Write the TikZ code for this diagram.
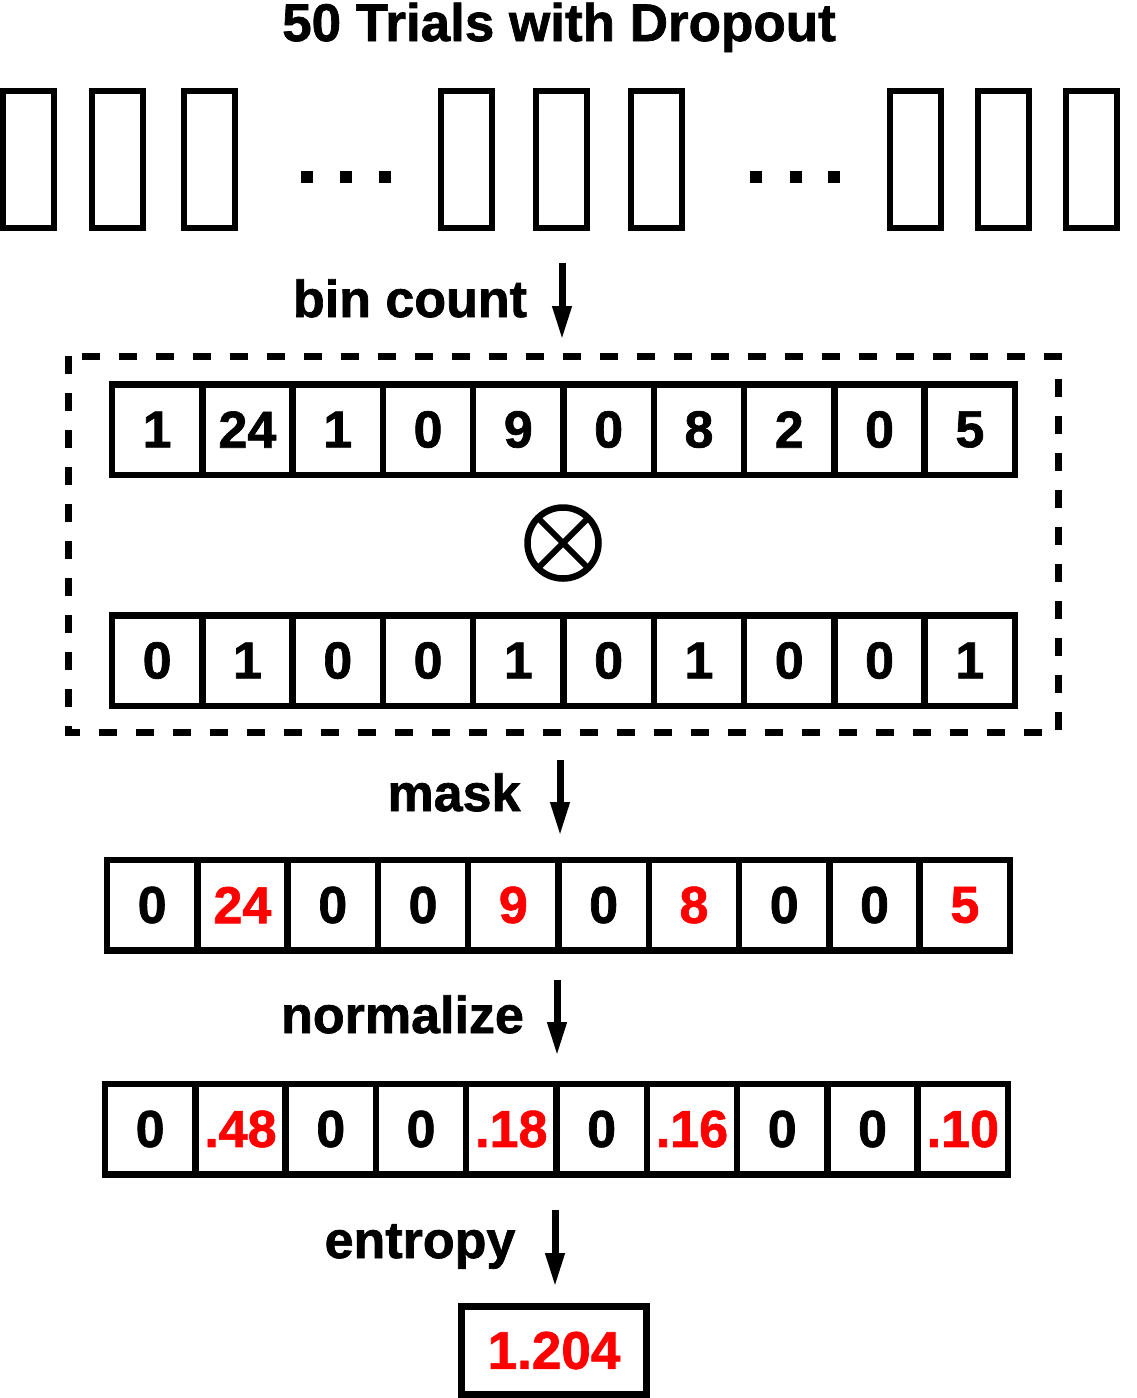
\documentclass[tikz,border=0pt]{standalone}
\usepackage{fontspec}
\setmainfont{Liberation Sans}[BoldFeatures={FakeBold=1.3}]
\usetikzlibrary{arrows.meta}
\tikzset{
  cell/.style={draw=black, line width=6.5pt, minimum width=90.3pt, minimum height=90.5pt,
    inner sep=0pt, outer sep=0pt, font=\fontsize{52}{60}\selectfont\bfseries},
  trial/.style={draw=black, line width=6pt, minimum width=51pt, minimum height=137pt,
    inner sep=0pt, outer sep=0pt},
  lbl/.style={anchor=base, inner sep=0pt, font=\fontsize{52}{60}\selectfont\bfseries},
  flow/.style={line width=7pt, -{Triangle[length=34pt,width=18pt]}},
  dotsq/.style={fill=black, draw=none, minimum size=12pt, inner sep=0pt},
  groupbox/.style={draw=black, line width=7pt, dash pattern=on 18pt off 19pt},
}
\begin{document}
\begin{tikzpicture}[x=1pt,y=-1pt]
\useasboundingbox (0,0) rectangle (1136,1398);
% title
\node[lbl, font=\fontsize{53}{60}\selectfont\bfseries] (title) at (559,41) {50 Trials with Dropout};
% trials
\foreach \x [count=\i] in {28.5,117,209.5,466.5,561.5,656,915,1003.5,1091}
  \node[trial] (t\i) at (\x,159.5) {};
\foreach \x [count=\i] in {307,346,385,755.5,795.5,834}
  \node[dotsq] (d\i) at (\x,177) {};
% bin count arrow
\node[lbl] (lbin) at (410,317) {bin count};
\coordinate (a1s) at (562,263);
\coordinate (a1e) at (562,340);
\draw[flow] (a1s) -- (a1e);
% dashed group
\draw[groupbox] (68,356) rectangle (1058.5,732);
% row 1
\foreach \v [count=\i] in {1,24,1,0,9,0,8,2,0,5}
  \node[cell] (ra\i) at ({112+90.3*(\i-0.5)},429.5) {\v};
% otimes
\node[draw=black, circle, line width=6.5pt, minimum size=71pt, inner sep=0pt, outer sep=0pt] (ot) at (563,543) {};
\draw[line width=6pt] (ot.45) -- (ot.225);
\draw[line width=6pt] (ot.135) -- (ot.315);
% row 2
\foreach \v [count=\i] in {0,1,0,0,1,0,1,0,0,1}
  \node[cell] (rb\i) at ({112+90.3*(\i-0.5)},660.5) {\v};
% mask arrow
\node[lbl] (lmask) at (454,811) {mask};
\coordinate (a2s) at (560,760);
\coordinate (a2e) at (560,836);
\draw[flow] (a2s) -- (a2e);
% row 3
\foreach \v/\c [count=\i] in {0/black,24/red,0/black,0/black,9/red,0/black,8/red,0/black,0/black,5/red}
  \node[cell, text=\c] (rc\i) at ({107+90.3*(\i-0.5)},905) {\v};
% normalize arrow
\node[lbl] (lnorm) at (402.5,1033) {normalize};
\coordinate (a3s) at (557,980);
\coordinate (a3e) at (557,1056);
\draw[flow] (a3s) -- (a3e);
% row 4
\foreach \v/\c [count=\i] in {0/black,.48/red,0/black,0/black,.18/red,0/black,.16/red,0/black,0/black,.10/red}
  \node[cell, text=\c] (rd\i) at ({105+90.3*(\i-0.5)},1129) {\v};
% entropy arrow
\node[lbl] (lent) at (420,1258) {entropy};
\coordinate (a4s) at (555,1210);
\coordinate (a4e) at (555,1287);
\draw[flow] (a4s) -- (a4e);
% result
\node[draw=black, line width=7pt, minimum width=185pt, minimum height=88pt, inner sep=0pt,
  outer sep=0pt, text=red, font=\fontsize{53}{60}\selectfont\bfseries] (res) at (554,1350.5) {1.204};
\end{tikzpicture}
\end{document}
